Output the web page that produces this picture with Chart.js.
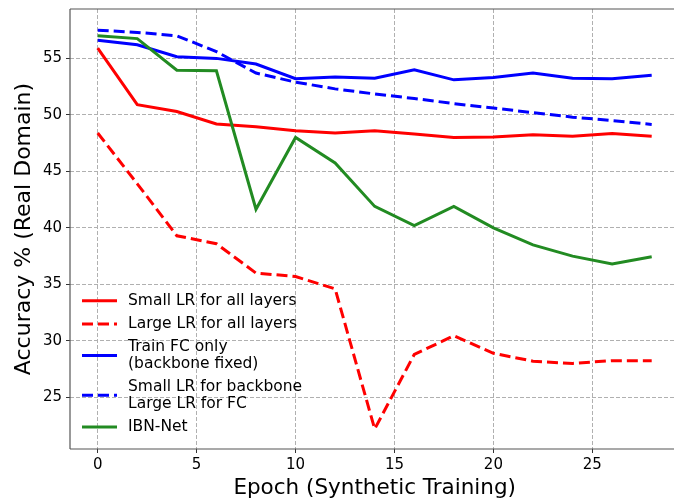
<!DOCTYPE html>
<html>
<head>
<meta charset="utf-8">
<script src="https://cdn.jsdelivr.net/npm/chart.js@4"></script>
<style>
  html, body { margin: 0; padding: 0; background: #fff; overflow: hidden; }
  #wrap { width: 674px; height: 501px; overflow: hidden; }
</style>
</head>
<body>
<div id="wrap"><canvas id="accChart" width="690" height="501"></canvas></div>
<script>
// Data
const epochs = [0, 2, 4, 6, 8, 10, 12, 14, 16, 18, 20, 22, 24, 26, 28];
const smallLrAll = [55.9, 50.9, 50.3, 49.2, 48.95, 48.6, 48.4, 48.6, 48.3, 48.0, 48.05, 48.25, 48.1, 48.35, 48.1];
const largeLrAll = [48.4, 43.9, 39.3, 38.6, 36.0, 35.7, 34.6, 22.2, 28.8, 30.45, 28.9, 28.2, 28.0, 28.25, 28.25];
const trainFcOnly = [56.6, 56.2, 55.15, 55.0, 54.5, 53.2, 53.35, 53.25, 54.0, 53.1, 53.3, 53.7, 53.25, 53.2, 53.5];
const smallBackLargeFc = [57.5, 57.3, 57.0, 55.6, 53.7, 52.9, 52.3, 51.85, 51.45, 51.0, 50.6, 50.2, 49.8, 49.5, 49.15];
const ibnNet = [57.0, 56.75, 53.95, 53.9, 41.65, 48.0, 45.75, 41.9, 40.2, 41.9, 40.0, 38.5, 37.5, 36.8, 37.45];

const seriesNames = [
    'Small LR for all layers',
    'Large LR for all layers',
    'Train FC only\n(backbone fixed)',
    'Small LR for backbone\nLarge LR for FC',
    'IBN-Net'
];
const xTickValues = [0, 5, 10, 15, 20, 25];
const yTickValues = [25, 30, 35, 40, 45, 50, 55];

const FONT = "'DejaVu Sans', sans-serif";
const DASH = [11, 5];

const toPoints = (values) => values.map((v, i) => ({ x: epochs[i], y: v }));

const seriesStyles = [
    { color: '#ff0000', dash: [] },
    { color: '#ff0000', dash: DASH },
    { color: '#0000ff', dash: [] },
    { color: '#0000ff', dash: DASH },
    { color: '#228b22', dash: [] }
];
const seriesValues = [smallLrAll, largeLrAll, trainFcOnly, smallBackLargeFc, ibnNet];

const datasets = seriesValues.map((vals, i) => ({
    label: seriesNames[i],
    data: toPoints(vals),
    borderColor: seriesStyles[i].color,
    borderDash: seriesStyles[i].dash,
    borderWidth: 3,
    pointRadius: 0,
    tension: 0,
    fill: false,
    order: seriesValues.length - i   // later series drawn on top
}));

// Top, left and bottom spines; the right spine falls outside the window
const framePlugin = {
    id: 'frame',
    afterDatasetsDraw(chart) {
        const ctx = chart.ctx;
        const xs = chart.scales.x, ys = chart.scales.y;
        const left = xs.getPixelForValue(xs.min);
        const right = chart.width;
        const top = ys.getPixelForValue(ys.max);
        const bottom = ys.getPixelForValue(ys.min);
        const seg = (x1, y1, x2, y2) => {
            ctx.beginPath();
            ctx.moveTo(x1, y1);
            ctx.lineTo(x2, y2);
            ctx.stroke();
        };
        ctx.save();
        ctx.strokeStyle = '#555';
        ctx.lineWidth = 1.2;
        ctx.setLineDash([]);
        seg(left, top, right, top);
        seg(left, top, left, bottom);
        seg(left, bottom, right, bottom);
        ctx.restore();
    }
};

// Legend in the lower-left, no frame
const legendPlugin = {
    id: 'mplLegend',
    afterDraw(chart) {
        const ctx = chart.ctx;
        const x0 = 82, x1 = 117, tx = 128;
        const lineH = 16.5;
        let y = 300.7;
        ctx.save();
        ctx.font = '15.5px ' + FONT;
        ctx.textBaseline = 'middle';
        ctx.fillStyle = '#000';
        seriesNames.forEach((name, i) => {
            const lines = name.split('\n');
            const mid = y + (lines.length - 1) * lineH / 2;
            ctx.beginPath();
            ctx.strokeStyle = seriesStyles[i].color;
            ctx.lineWidth = 3;
            ctx.setLineDash(seriesStyles[i].dash);
            ctx.moveTo(x0, mid);
            ctx.lineTo(x1, mid);
            ctx.stroke();
            lines.forEach((t, k) => ctx.fillText(t, tx, y + k * lineH));
            y += (lines.length - 1) * lineH + 23.3;
        });
        ctx.restore();
    }
};

const gridOpts = {
    color: '#b0b0b0',
    tickBorderDash: [],
    tickColor: '#333',
    tickLength: 4,
    lineWidth: 1
};

const ctx = document.getElementById('accChart').getContext('2d');
new Chart(ctx, {
    type: 'line',
    data: { datasets },
    options: {
        responsive: false,
        animation: false,
        layout: { padding: { top: 9, right: 10.6, left: 0, bottom: 0 } },
        plugins: { legend: { display: false }, tooltip: { enabled: false } },
        scales: {
            x: {
                type: 'linear',
                min: -1.4,
                max: 29.4,
                afterBuildTicks: (scale) => { scale.ticks = xTickValues.map(v => ({ value: v })); },
                afterFit: (scale) => { scale.height = 52; },
                border: { display: false, dash: [4, 2] },
                grid: gridOpts,
                ticks: { color: '#000', font: { family: FONT, size: 15 }, padding: 3, maxRotation: 0 },
                title: {
                    display: true,
                    text: 'Epoch (Synthetic Training)',
                    color: '#000',
                    font: { family: FONT, size: 21.5 },
                    padding: { top: 0, bottom: 0 }
                }
            },
            y: {
                type: 'linear',
                min: 20.43,
                max: 59.37,
                afterBuildTicks: (scale) => { scale.ticks = yTickValues.map(v => ({ value: v })); },
                afterFit: (scale) => { scale.width = 70; scale.paddingTop = 0; scale.paddingBottom = 0; },
                border: { display: false, dash: [4, 2] },
                grid: gridOpts,
                ticks: { color: '#000', font: { family: FONT, size: 15 }, padding: 4 },
                title: {
                    display: true,
                    text: 'Accuracy % (Real Domain)',
                    color: '#000',
                    font: { family: FONT, size: 22 },
                    padding: { top: 11, bottom: 0 }
                }
            }
        }
    },
    plugins: [framePlugin, legendPlugin]
});
</script>
</body>
</html>
